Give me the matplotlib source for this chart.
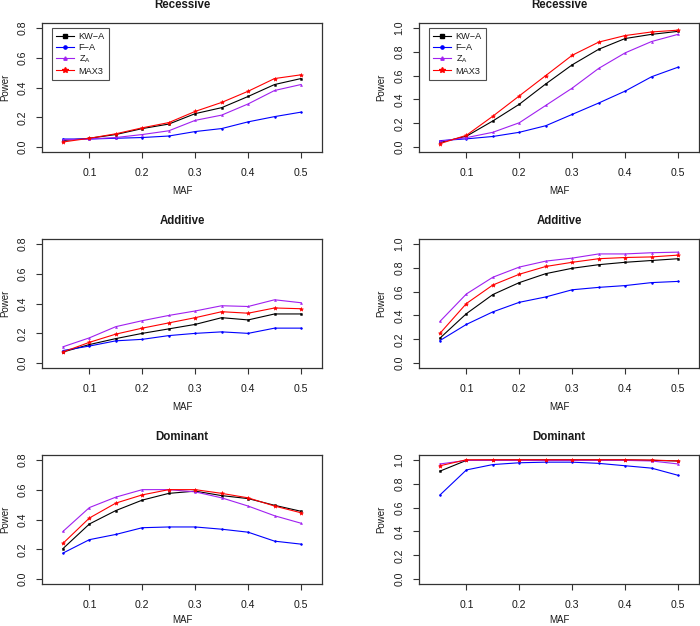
import matplotlib
matplotlib.use("Agg")
import matplotlib.pyplot as plt
from matplotlib.lines import Line2D

plt.rcParams['font.family'] = ['Liberation Sans', 'DejaVu Sans']
plt.rcParams['mathtext.fontset'] = 'custom'
plt.rcParams['mathtext.rm'] = 'Liberation Sans'
plt.rcParams['mathtext.it'] = 'Liberation Sans'

maf = [0.05, 0.10, 0.15, 0.20, 0.25, 0.30, 0.35, 0.40, 0.45, 0.50]
series_names = ["KW\u2212A", "F\u2212A", r"Z$_\mathrm{A}$", "MAX3"]
colors = ["#000000", "#0000FF", "#A020F0", "#FF0000"]
markers = ["s", "o", "^", "*"]
msizes = [1.3, 1.3, 1.4, 3.0]

# Panel 1: Recessive (left, ylim 0-0.8)
rec_l_kwa  = [0.045, 0.060, 0.085, 0.125, 0.155, 0.225, 0.265, 0.340, 0.420, 0.460]
rec_l_fa   = [0.055, 0.055, 0.060, 0.065, 0.075, 0.105, 0.125, 0.170, 0.205, 0.235]
rec_l_za   = [0.050, 0.055, 0.065, 0.085, 0.110, 0.180, 0.215, 0.290, 0.380, 0.420]
rec_l_max3 = [0.035, 0.060, 0.090, 0.130, 0.165, 0.240, 0.300, 0.375, 0.460, 0.485]

# Panel 2: Recessive (right, ylim 0-1)
rec_r_kwa  = [0.040, 0.092, 0.220, 0.360, 0.530, 0.690, 0.820, 0.910, 0.945, 0.970]
rec_r_fa   = [0.055, 0.070, 0.090, 0.125, 0.180, 0.275, 0.370, 0.470, 0.590, 0.670]
rec_r_za   = [0.050, 0.080, 0.125, 0.205, 0.350, 0.495, 0.660, 0.790, 0.885, 0.945]
rec_r_max3 = [0.030, 0.100, 0.260, 0.430, 0.600, 0.770, 0.880, 0.935, 0.965, 0.980]

# Panel 3: Additive (left)
add_l_kwa  = [0.075, 0.125, 0.165, 0.200, 0.230, 0.260, 0.305, 0.290, 0.330, 0.330]
add_l_fa   = [0.085, 0.115, 0.150, 0.160, 0.185, 0.200, 0.210, 0.200, 0.235, 0.235]
add_l_za   = [0.110, 0.170, 0.245, 0.285, 0.320, 0.350, 0.385, 0.380, 0.425, 0.405]
add_l_max3 = [0.075, 0.140, 0.195, 0.235, 0.270, 0.305, 0.345, 0.335, 0.370, 0.365]

# Panel 4: Additive (right)
add_r_kwa  = [0.210, 0.415, 0.575, 0.675, 0.750, 0.795, 0.825, 0.845, 0.860, 0.875]
add_r_fa   = [0.190, 0.325, 0.430, 0.510, 0.555, 0.615, 0.635, 0.650, 0.675, 0.685]
add_r_za   = [0.350, 0.580, 0.720, 0.805, 0.855, 0.880, 0.915, 0.915, 0.925, 0.930]
add_r_max3 = [0.250, 0.500, 0.655, 0.745, 0.810, 0.845, 0.875, 0.885, 0.890, 0.905]

# Panel 5: Dominant (left)
dom_l_kwa  = [0.205, 0.370, 0.460, 0.530, 0.575, 0.590, 0.560, 0.540, 0.495, 0.455]
dom_l_fa   = [0.175, 0.265, 0.300, 0.345, 0.350, 0.350, 0.335, 0.315, 0.255, 0.235]
dom_l_za   = [0.320, 0.480, 0.550, 0.600, 0.600, 0.585, 0.545, 0.490, 0.425, 0.375]
dom_l_max3 = [0.240, 0.410, 0.510, 0.565, 0.600, 0.600, 0.575, 0.545, 0.490, 0.445]

# Panel 6: Dominant (right)
dom_r_kwa  = [0.905, 0.995, 0.998, 0.999, 0.999, 0.999, 0.999, 0.999, 0.995, 0.990]
dom_r_fa   = [0.705, 0.915, 0.960, 0.975, 0.980, 0.980, 0.970, 0.950, 0.930, 0.870]
dom_r_za   = [0.965, 0.995, 0.995, 0.995, 0.995, 0.995, 0.995, 0.995, 0.990, 0.965]
dom_r_max3 = [0.950, 1.000, 1.000, 1.000, 1.000, 1.000, 1.000, 1.000, 0.998, 0.990]

panels = [
    ("Recessive", 0.8, [rec_l_kwa, rec_l_fa, rec_l_za, rec_l_max3], True),
    ("Recessive", 1.0, [rec_r_kwa, rec_r_fa, rec_r_za, rec_r_max3], True),
    ("Additive", 0.8, [add_l_kwa, add_l_fa, add_l_za, add_l_max3], False),
    ("Additive", 1.0, [add_r_kwa, add_r_fa, add_r_za, add_r_max3], False),
    ("Dominant", 0.8, [dom_l_kwa, dom_l_fa, dom_l_za, dom_l_max3], False),
    ("Dominant", 1.0, [dom_r_kwa, dom_r_fa, dom_r_za, dom_r_max3], False),
]

W, H = 700, 626
fig = plt.figure(figsize=(7.0, 6.26), dpi=100)

col_left_px = [42, 419]
row_top_px = [23, 239, 455]
box_w, box_h = 280, 129

txtc = "#1a1a1a"
for i, (title, ymax, data, legend) in enumerate(panels):
    r, c = divmod(i, 2)
    left = col_left_px[c] / W
    bottom = 1 - (row_top_px[r] + box_h) / H
    ax = fig.add_axes([left, bottom, box_w / W, box_h / H])
    for vals, col, mk, ms, name in zip(data, colors, markers, msizes, series_names):
        ax.plot(maf, vals, color=col, lw=0.8, marker=mk, ms=ms, mew=0.4,
                mec=col, mfc=col, label=name)
    xr = 0.52 - 0.03
    ax.set_xlim(0.03 - 0.04 * xr, 0.52 + 0.04 * xr)
    ax.set_ylim(-0.04 * ymax, ymax * 1.04)
    ax.set_xticks([0.1, 0.2, 0.3, 0.4, 0.5])
    ax.set_xticklabels(["0.1", "0.2", "0.3", "0.4", "0.5"])
    if ymax == 0.8:
        yt = [0.0, 0.2, 0.4, 0.6, 0.8]
    else:
        yt = [0.0, 0.2, 0.4, 0.6, 0.8, 1.0]
    ax.set_yticks(yt)
    ax.set_yticklabels(["%.1f" % v for v in yt], rotation=90, va="center")
    ax.tick_params(axis="both", direction="out", length=4.5, width=0.8,
                   labelsize=7.6, colors="#333333", labelcolor=txtc)
    ax.tick_params(axis="x", pad=7)
    ax.tick_params(axis="y", pad=6)
    for sp in ax.spines.values():
        sp.set_linewidth(0.9)
        sp.set_color("#333333")
    ax.text(0.5, 1 + 18 / box_h, title, transform=ax.transAxes, ha="center",
            va="center", fontsize=8.3, fontweight="bold", color=txtc)
    ax.set_xlabel("MAF", fontsize=7.0, color=txtc)
    ax.xaxis.set_label_coords(0.5, (-39 if r < 2 else -36) / box_h)
    ax.xaxis.label.set_va("center")
    ax.set_ylabel("Power", fontsize=7.0, color=txtc)
    ax.yaxis.set_label_coords(-0.133 if c == 0 else -0.136, 0.5)
    ax.yaxis.label.set_va("center")
    if legend:
        handles = [Line2D([0], [0], color=col, lw=0.8, marker=mk, ms=ms + 1.0,
                          mec=col, mfc=col) for col, mk, ms in zip(colors, markers, msizes)]
        leg = ax.legend(handles, series_names, loc="upper left",
                        bbox_to_anchor=(10 / box_w, 1 - 5 / box_h),
                        fontsize=6.6, frameon=True, fancybox=False,
                        borderpad=0.45, labelspacing=0.18, handlelength=1.9,
                        handletextpad=0.55, borderaxespad=0.0)
        leg.get_frame().set_edgecolor("#222222")
        leg.get_frame().set_linewidth(0.8)
        for t in leg.get_texts():
            t.set_color(txtc)

fig.savefig("out.png", dpi=100)
